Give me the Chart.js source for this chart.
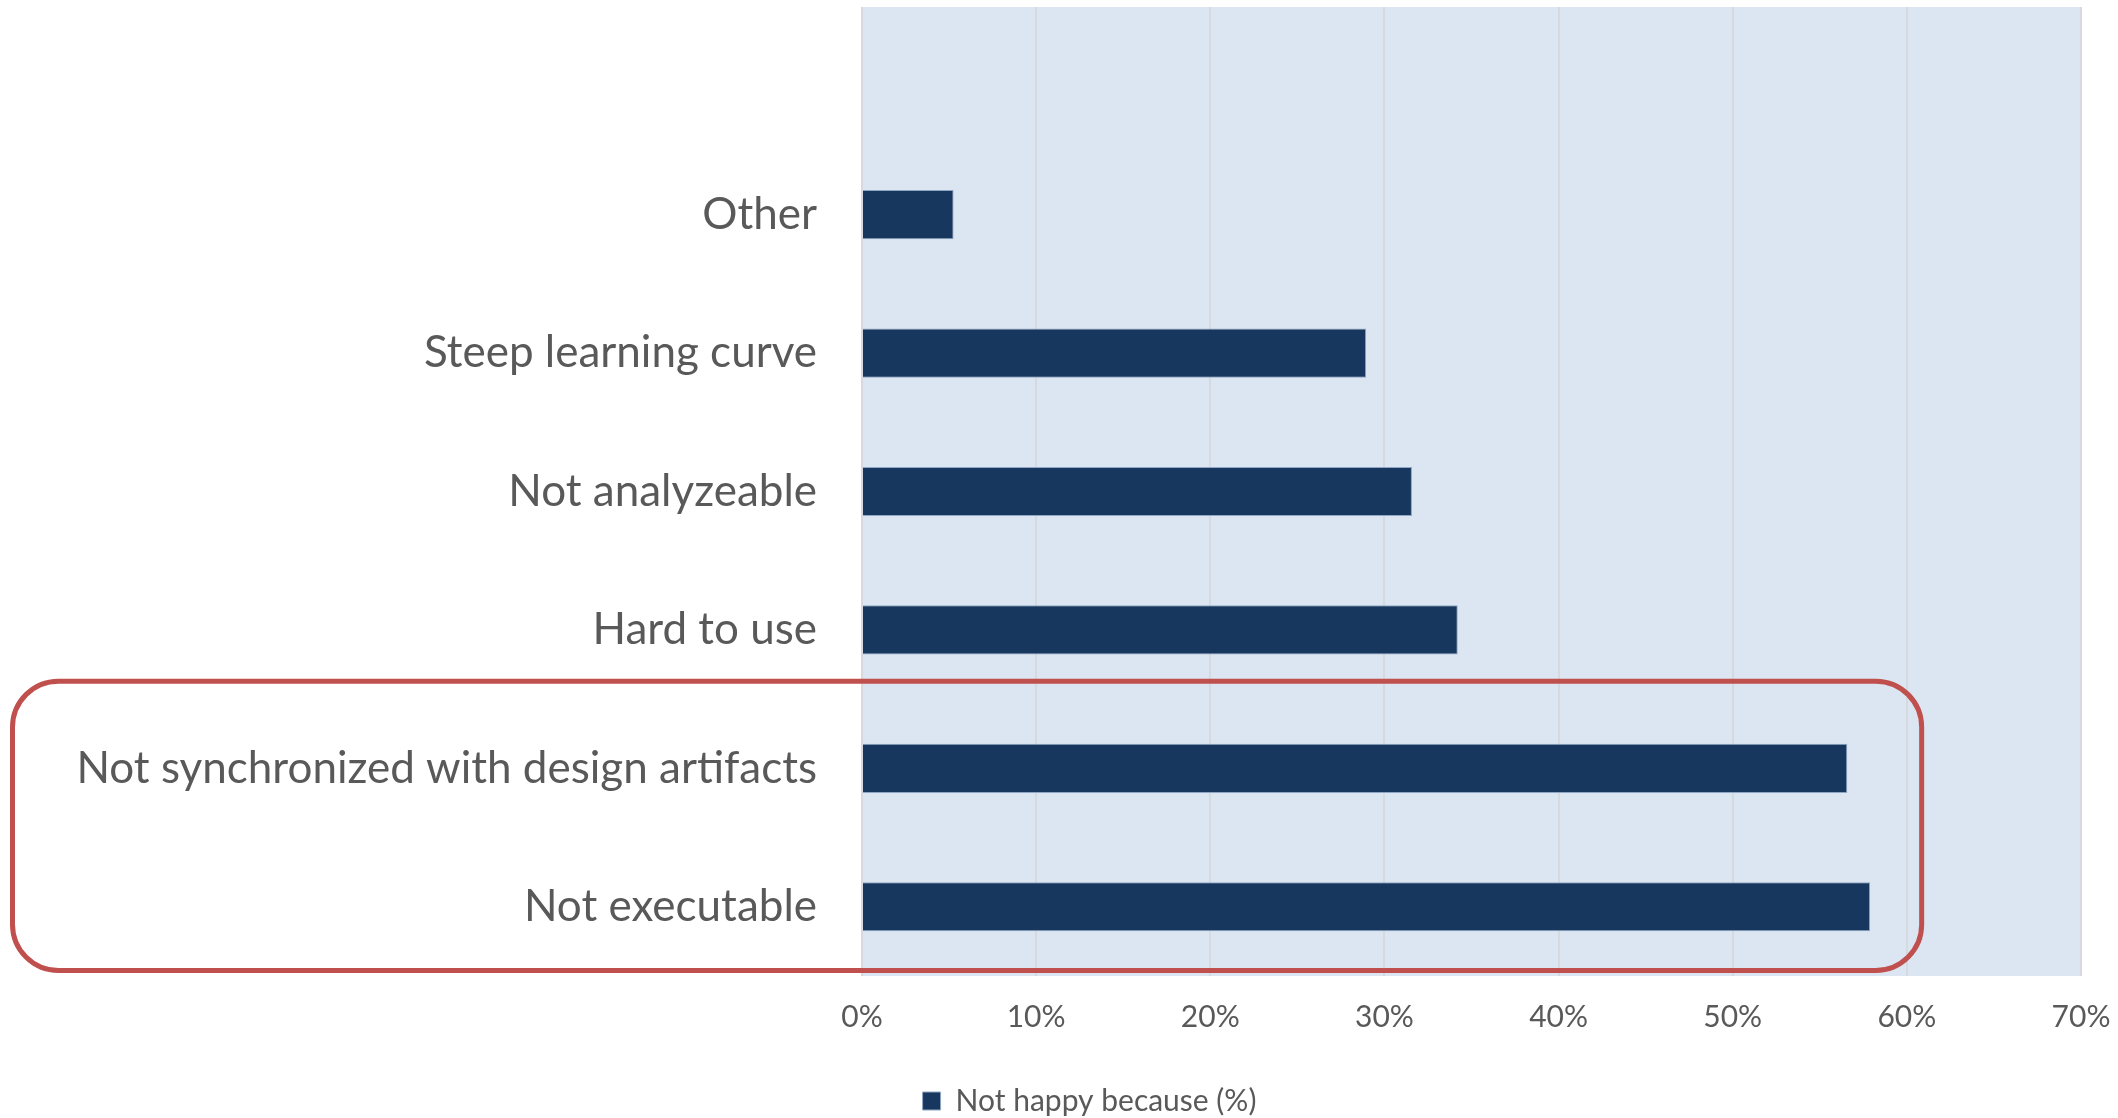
<!DOCTYPE html>
<html lang="en">
<head>
    <meta charset="UTF-8">
    <title>Not happy because (%)</title>
    <script src="https://cdn.jsdelivr.net/npm/chart.js"></script>
    <style>
        html, body {
            margin: 0;
            padding: 0;
            background: #ffffff;
            overflow: hidden;
        }
        canvas {
            display: block;
        }
    </style>
</head>
<body>
    <canvas id="myChart" width="2118" height="1118"></canvas>

    <script>
        // categories top to bottom, the first row is left empty
        const categories = ['', 'Other', 'Steep learning curve', 'Not analyzeable', 'Hard to use',
            'Not synchronized with design artifacts', 'Not executable'];
        const notHappy = [null, 5.26, 28.95, 31.58, 34.21, 56.58, 57.89];
        const percentTicks = [0, 10, 20, 30, 40, 50, 60, 70];
        const seriesName = 'Not happy because (%)';
        // rows framed by the red box
        const highlighted = ['Not synchronized with design artifacts', 'Not executable'];

        const FONT = 'Lato, "Open Sans", sans-serif';
        const TEXT = '#595959';

        // light blue fill behind the bars
        const plotBackground = {
            id: 'plotBackground',
            beforeDraw(chart) {
                const { ctx, chartArea: a } = chart;
                ctx.save();
                ctx.fillStyle = '#dce6f2';
                ctx.fillRect(a.left, a.top, a.right - a.left, a.bottom - a.top);
                ctx.restore();
            }
        };

        // rounded red frame around the highlighted rows
        const highlightBox = {
            id: 'highlightBox',
            afterDraw(chart) {
                const { ctx, scales } = chart;
                const first = categories.indexOf(highlighted[0]);
                const last = categories.indexOf(highlighted[highlighted.length - 1]);
                const top = scales.y.getPixelForValue(first - 0.63);
                const bottom = scales.y.getPixelForValue(last + 0.46);
                const left = 12.5;
                const right = scales.x.getPixelForValue(60.85);
                ctx.save();
                ctx.strokeStyle = '#c0504d';
                ctx.lineWidth = 5;
                ctx.beginPath();
                ctx.roundRect(left, top, right - left, bottom - top, 46);
                ctx.stroke();
                ctx.restore();
            }
        };

        // legend sits a bit right of the canvas centre
        const legendShift = {
            id: 'legendShift',
            afterLayout(chart) {
                chart.legend.left += 98;
            }
        };

        // keep the plot edges where the layout puts them, no room for half labels
        function noEdgePadding(scale) {
            scale.paddingTop = 0;
            scale.paddingBottom = 0;
            scale.paddingLeft = 0;
            scale.paddingRight = 0;
        }

        const ctx = document.getElementById('myChart').getContext('2d');
        new Chart(ctx, {
            type: 'bar',
            data: {
                labels: categories,
                datasets: [{
                    label: seriesName,
                    data: notHappy,
                    backgroundColor: '#17375e',
                    borderColor: '#8fa6c4',
                    borderWidth: 1,
                    barPercentage: 0.355,
                    categoryPercentage: 1
                }]
            },
            options: {
                indexAxis: 'y',
                responsive: false,
                animation: false,
                layout: {
                    padding: { left: 0, right: 37, top: 7, bottom: -8 }
                },
                scales: {
                    x: {
                        min: percentTicks[0],
                        max: percentTicks[percentTicks.length - 1],
                        afterBuildTicks(scale) {
                            scale.ticks = percentTicks.map(v => ({ value: v }));
                        },
                        afterFit(scale) {
                            scale.height = 108;
                            noEdgePadding(scale);
                        },
                        grid: {
                            color: '#d6d9dd',
                            lineWidth: 2,
                            drawTicks: false
                        },
                        border: { display: false },
                        ticks: {
                            padding: 23,
                            color: TEXT,
                            font: { family: FONT, size: 30 },
                            callback: v => v + '%'
                        }
                    },
                    y: {
                        afterFit(scale) {
                            scale.width = 862;
                            noEdgePadding(scale);
                        },
                        grid: { display: false, drawTicks: false },
                        border: { display: false },
                        ticks: {
                            padding: 45,
                            autoSkip: false,
                            color: TEXT,
                            font: { family: FONT, size: 44 }
                        }
                    }
                },
                plugins: {
                    legend: {
                        position: 'bottom',
                        labels: {
                            boxWidth: 18,
                            boxHeight: 18,
                            padding: 2,
                            color: TEXT,
                            font: { family: FONT, size: 30 }
                        }
                    },
                    tooltip: { enabled: false }
                }
            },
            plugins: [plotBackground, highlightBox, legendShift]
        });
    </script>
</body>
</html>
